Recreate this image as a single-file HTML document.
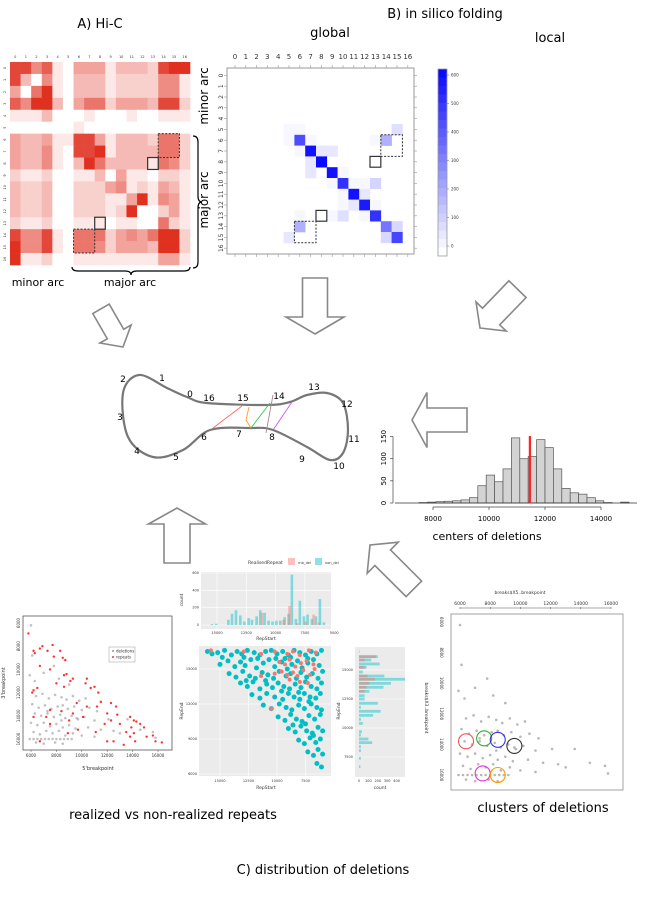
<!DOCTYPE html>
<html><head><meta charset="utf-8"><style>
html,body{margin:0;padding:0;background:#fff;}
svg{display:block;font-family:"DejaVu Sans","Liberation Sans",sans-serif;}
</style></head><body>
<svg id="fig" width="650" height="900" viewBox="0 0 650 900" xmlns="http://www.w3.org/2000/svg">
<rect width="650" height="900" fill="#fff"/>
<text x="100" y="28" font-size="13" text-anchor="middle">A) Hi-C</text>
<text x="445" y="18" font-size="13" text-anchor="middle">B) in silico folding</text>
<text x="330" y="37" font-size="13" text-anchor="middle">global</text>
<text x="550" y="42" font-size="13" text-anchor="middle">local</text>
<text transform="translate(208,96) rotate(-90)" font-size="12" text-anchor="middle">minor arc</text>
<text transform="translate(208,200) rotate(-90)" font-size="12" text-anchor="middle">major arc</text>
<text x="38" y="286" font-size="11" text-anchor="middle">minor arc</text>
<text x="130" y="286" font-size="11" text-anchor="middle">major arc</text>
<path d="M193,136 q5,0 5,6 v54 q0,6 4,6 q-4,0 -4,6 v54 q0,6 -5,6" fill="none" stroke="#000" stroke-width="1.2"/>
<path d="M72,267 q0,4 6,4 h47 q6,0 6,4 q0,-4 6,-4 h47 q6,0 6,-4" fill="none" stroke="#000" stroke-width="1.2"/>
<text x="487" y="540" font-size="11" text-anchor="middle">centers of deletions</text>
<text x="173" y="819" font-size="13" text-anchor="middle">realized vs non-realized repeats</text>
<text x="543" y="812" font-size="13" text-anchor="middle">clusters of deletions</text>
<text x="323" y="874" font-size="13" text-anchor="middle">C) distribution of deletions</text>
<g id="layer"></g>
</svg>
<script>
// ---------- data ----------
const hicMatrix = [
[8,8,5,7,1,0,4,4,4,1,3,3,3,2,8,9,9],
[8,3,0,5,1,0,3,3,3,1,2,2,2,2,5,5,1],
[4,0,6,9,1,0,3,3,3,1,2,2,2,2,5,5,1],
[7,5,9,9,3,0,4,6,6,2,4,4,4,3,8,8,2],
[1,1,1,3,0,0,0,1,0,0,0,1,0,0,1,1,1],
[0,0,0,0,0,0,1,0,0,0,0,0,0,0,0,0,0],
[4,3,3,4,1,1,8,8,4,1,3,3,3,2,6,6,2],
[4,3,3,5,1,0,8,8,9,1,3,3,3,3,6,6,2],
[4,3,3,5,1,0,3,9,6,3,3,3,3,1,6,5,2],
[2,1,1,2,0,0,1,1,3,0,4,1,1,0,2,2,1],
[3,2,2,3,0,0,2,2,2,4,5,1,2,1,4,3,1],
[3,2,2,3,0,0,2,2,2,1,1,4,9,1,5,4,1],
[3,2,2,3,0,0,2,2,2,1,2,9,0,0,2,4,1],
[2,1,1,2,0,0,1,1,1,0,1,1,0,0,6,2,1],
[8,5,5,8,1,0,6,6,6,2,4,5,4,6,9,9,2],
[9,5,5,8,1,0,6,6,5,2,4,4,4,3,9,9,2],
[9,1,1,2,0,0,1,1,1,1,1,1,1,1,4,4,1]];
const foldCells = [[5,5,20],[5,6,20],[5,15,80],[6,5,20],[6,6,450],[6,7,20],[6,13,20],[6,14,200],
[7,6,20],[7,7,600],[7,8,60],[7,9,60],[8,7,60],[8,8,620],[9,7,60],[9,9,600],[9,10,20],
[10,9,20],[10,10,520],[10,11,20],[10,12,20],[10,13,110],[11,10,20],[11,11,600],[11,12,60],
[12,10,20],[12,11,60],[12,12,580],[12,13,20],[13,6,20],[13,9,20],[13,10,80],[13,12,20],[13,13,520],
[14,6,200],[14,14,350],[14,15,100],[15,5,60],[15,14,100],[15,15,470]];
const colorbarTicks = [0,100,200,300,400,500,600];
const histStart = 7500, histBin = 300;
const histCounts = [1,2,3,4,5,7,12,39,63,48,77,147,100,105,143,125,77,33,23,20,12,5,1,0,2];
const histMean = 11460;
const histXTicks = [8000,10000,12000,14000];
const histYTicks = [0,50,100,150];
const repStartTeal = [15430,15060,14030,13720,13380,13010,12670,12300,12020,11620,11310,10940,10600,10260,9940,9600,9230,8890,8610,8270,7930,7580,7270,6900,6560,6220,5880];
const countTeal = [10,15,60,130,170,110,40,80,60,100,170,140,50,40,50,50,90,130,580,70,280,100,120,70,100,300,30];
const repStartPink = [11160,9320,8810,8150,7440,6760,6310];
const countPink = [140,60,220,20,40,120,30];
const repStartTicks = [15000,12500,10000,7500,5000];
const countTicks = [0,200,400,600];
const repEndTeal = [16580,16150,15860,15520,15230,14830,14480,14200,13850,13510,13160,12790,12500,12130,11780,11440,11090,10750,10400,9680,9400,9050,8740,8390,8050,7390,6670];
const endCountTeal = [5,200,130,220,80,40,270,500,340,260,110,60,60,200,20,230,150,20,40,30,20,100,140,20,20,20,15];
const repEndPink = [16150,15860,15230,14480,14200,13850,13510,13160];
const endCountPink = [180,60,60,90,170,110,80,60];
const repEndTicks = [15000,12500,10000,7500];
const scatterTeal = [
[16.1,16.5],[15.7,16.3],[15.2,16.4],[14.6,16.6],[14.0,16.2],[13.5,16.5],[13.1,16.3],[12.6,16.6],[12.0,16.4],[11.5,16.2],[11.0,16.5],[10.5,16.6],[10.0,16.3],[9.5,16.5],[9.0,16.2],[8.5,16.6],[8.0,16.4],[7.5,16.2],[7.0,16.5],[6.5,16.3],[6.1,16.6],
[15.0,15.4],[14.3,15.7],[13.7,15.2],[13.2,15.6],[12.8,15.3],[12.3,15.8],[11.8,15.1],[11.2,15.5],[10.7,15.8],[10.2,15.2],[9.6,15.6],[9.1,15.0],[8.7,15.4],[8.2,15.7],[7.8,15.1],[7.3,15.5],[6.8,15.8],[6.3,15.3],
[14.2,14.6],[13.6,14.3],[13.0,14.8],[12.4,14.4],[11.9,14.2],[11.3,14.7],[10.8,14.5],[10.3,14.2],[9.8,14.8],[9.2,14.4],[8.8,14.6],[8.3,14.2],[7.9,14.7],[7.4,14.3],[6.9,14.6],[6.4,14.2],[6.0,14.8],
[13.2,13.8],[12.6,13.5],[12.1,13.9],[11.5,13.3],[10.9,13.7],[10.4,13.4],[9.9,13.8],[9.4,13.5],[8.9,13.3],[8.4,13.7],[7.9,13.4],[7.5,13.9],[7.0,13.5],[6.5,13.3],[6.1,13.8],
[12.2,12.8],[11.5,12.5],[10.9,12.9],[10.2,12.6],[9.5,12.4],[9.0,12.9],[8.5,12.6],[8.0,12.4],[7.6,12.9],[7.1,12.6],[6.6,12.5],[6.2,12.9],
[11.2,11.9],[10.5,11.6],[9.8,12.0],[9.2,11.7],[8.7,11.5],[8.1,11.9],[7.6,11.6],[7.0,12.0],[6.5,11.7],[6.1,11.5],
[9.9,10.9],[9.3,10.6],[8.8,11.1],[8.3,10.7],[7.8,10.5],[7.2,11.0],[6.7,10.7],[6.2,11.1],
[9.0,9.9],[8.4,9.6],[7.9,10.1],[7.4,9.7],[6.9,9.5],[6.4,10.0],[6.0,9.7],
[8.1,8.9],[7.6,8.6],[7.1,9.1],[6.6,8.7],[6.2,9.0],[7.3,7.9],[6.8,7.6],[6.4,8.1],[6.0,7.7],[6.5,6.9],[6.1,6.6],
[14.8,16.0],[12.9,16.0],[11.7,15.9],[10.1,15.9],[9.3,15.9],[8.8,16.0],[7.3,15.9],[12.7,14.0],[11.0,14.0],[9.6,13.1],[8.1,13.0],[7.2,12.2],[8.6,10.2],[7.5,10.3],[6.8,9.3]];
const scatterPink = [[15.8,16.6],[12.9,16.5],[11.4,16.3],[10.2,16.5],[9.1,16.3],[8.6,16.5],[8.0,16.2],[7.2,16.6],[6.6,16.4],
[9.8,15.6],[9.3,15.4],[8.9,15.8],[8.4,15.2],[7.9,15.5],[7.4,15.7],[6.8,15.4],[9.6,14.8],[9.1,14.5],[8.6,14.7],[8.2,14.4],[7.7,14.9],[7.1,14.5],[10.2,14.6],[8.9,14.1],[8.0,13.9],[11.4,14.4],[6.7,15.0],[10.5,11.6],[7.3,13.8]];
const scatterYTicks = [15000,12000,9000,6000];
const delRepeats = [[5.8,6.9],[6.2,8.4],[6.7,8.2],[6.3,8.6],[6.9,8.0],[7.7,7.9],[8.3,8.4],[8.5,9.0],[7.8,8.9],[7.3,8.4],[8.7,9.2],[6.7,9.7],[7.5,10.0],[8.8,10.4],[9.3,10.8],[8.6,10.5],[9.1,11.0],[8.0,11.2],[8.6,11.5],[6.2,11.8],[6.1,12.0],[6.5,11.6],[10.4,10.8],[10.3,11.2],[10.7,11.6],[11.0,11.5],[11.3,12.0],[11.5,12.8],[11.2,13.2],[12.3,12.9],[12.7,13.2],[12.0,13.8],[12.8,13.9],[10.4,13.2],[9.6,12.9],[9.3,13.8],[10.1,14.1],[9.0,14.4],[8.4,13.6],[7.5,13.5],[7.2,14.1],[11.8,14.7],[12.3,14.4],[13.0,14.7],[13.8,14.1],[14.1,14.4],[14.3,14.5],[13.9,15.0],[14.6,14.7],[14.9,15.0],[14.1,15.5],[14.2,16.2],[13.5,15.4],[13.8,15.8],[12.5,16.2],[13.3,16.5],[15.6,15.7],[15.8,16.2],[16.3,16.3],[15.1,15.8],[12.0,16.2],[11.1,15.4],[9.7,15.2],[8.9,15.5],[6.7,16.2],[7.5,14.7],[6.2,14.1]];
const delBreaks = [[5.9,16.0],[6.2,16.0],[6.5,16.0],[6.8,16.0],[7.1,16.0],[7.4,16.0],[7.7,16.0],[8.0,16.0],[8.3,16.0],[8.6,16.0],[8.9,16.0],[9.2,16.0],
[6.0,6.2],[6.1,8.8],[5.9,10.5],[6.3,11.0],[7.0,10.3],[7.8,9.7],[8.2,10.8],[9.0,11.3],[6.4,12.3],[6.9,12.1],[7.4,12.5],[7.9,12.2],[8.4,12.4],[8.8,12.6],[9.3,12.3],[9.8,12.7],[10.3,12.5],[6.1,13.0],[6.6,13.3],[7.1,13.1],[7.6,13.4],[8.1,13.2],[8.5,13.1],[8.9,13.4],[9.4,13.2],[10.0,13.5],[10.6,13.3],[11.2,13.6],[6.3,13.8],[6.8,14.0],[7.3,13.8],[7.8,14.1],[8.3,13.9],[8.7,14.2],[9.2,14.0],[9.7,14.3],[10.2,14.1],[11.0,14.4],[6.0,14.6],[6.5,14.8],[7.0,14.6],[7.5,14.9],[8.0,14.7],[8.5,15.0],[9.0,14.8],[9.5,15.1],[10.5,15.0],[11.5,15.2],[12.5,15.3],[6.2,15.4],[6.7,15.6],[7.2,15.3],[7.7,15.5],[8.2,15.3],[8.7,15.7],[9.3,15.5],[10.0,15.7],[11.0,15.8],[13.0,15.5],[15.6,15.4],[15.8,15.9],[6.4,16.3],[7.0,16.4],[7.9,16.3],[8.5,16.4],[14.6,15.2],[12.1,14.3],[13.6,14.3],[7.3,13.6],[8.4,14.4],[9.6,14.2]];
const breakTicks = [6000,8000,10000,12000,14000,16000];
const clusterCenters = [[6.4,13.8],[7.6,13.6],[8.5,13.7],[9.6,14.1],[7.5,15.9],[8.5,16.0]];
const clusterColors = ['#e55','#3a3','#33d','#333','#d3d','#f90'];

// ---------- helpers ----------
const NS='http://www.w3.org/2000/svg';
const layer=document.getElementById('layer');
function mk(tag,attrs,parent){const e=document.createElementNS(NS,tag);for(const k in attrs)e.setAttribute(k,attrs[k]);(parent||layer).appendChild(e);return e;}
function txt(x,y,s,size,anchor,parent,rot){const t=mk('text',{x:x,y:y,'font-size':size,'text-anchor':anchor||'middle',fill:'#333'},parent);if(rot)t.setAttribute('transform','rotate('+rot+' '+x+' '+y+')');t.textContent=s;return t;}

// ---------- Hi-C heatmap ----------
const hic=mk('g',{});


const hx0=10,hy0=62,hcw=180/17,hch=203/17;
hicMatrix.forEach((row,r)=>row.forEach((v,c)=>{
  const f=v/9;const col='rgb('+Math.round(255-31*f)+','+Math.round(255-207*f)+','+Math.round(255-223*f)+')';
  const cell=mk('rect',{x:hx0+c*hcw,y:hy0+r*hch,width:hcw+0.3,height:hch+0.3,fill:col},hic);
  
  
}));
for(let i=0;i<17;i++){
  const t1=txt(hx0+(i+0.5)*hcw,58,String(i),3.5,'middle',hic);
  
  
  const t2=txt(6,hy0+(i+0.5)*hch,String(i),3.5,'middle',hic,-90);
  
  
}
function box(g,x,y,w,h,dashed,name){const b=mk('rect',{x:x,y:y,width:w,height:h,fill:'none',stroke:'#333','stroke-width':dashed?1:1.2,'stroke-dasharray':dashed?'2,1.5':'none'},g);}
box(hic,hx0+14*hcw,hy0+6*hch,2*hcw,2*hch,true,'hic-dashed-box');
box(hic,hx0+13*hcw,hy0+8*hch,hcw,hch,false,'hic-solid-box');
box(hic,hx0+8*hcw,hy0+13*hch,hcw,hch,false,'hic-solid-box');
box(hic,hx0+6*hcw,hy0+14*hch,2*hcw,2*hch,true,'hic-dashed-box');

// ---------- in silico heatmap ----------
const fold=mk('g',{});


const fx0=229.6,fy0=70,fc=10.8;
const fr=mk('rect',{x:227,y:68,width:187,height:186,fill:'#fff',stroke:'#999','stroke-width':1},fold);


function blue(v){const f=Math.min(v/620,1);return 'rgb('+Math.round(255-245*f)+','+Math.round(255-245*f)+',255)';}
foldCells.forEach(d=>{
  const c=mk('rect',{x:fx0+d[1]*fc,y:fy0+d[0]*fc,width:fc+0.3,height:fc+0.3,fill:blue(d[2])},fold);
  
  
});
for(let i=0;i<17;i++){
  const t=txt(fx0+(i+0.5)*fc,59,String(i),7,'middle',fold);
  
  
  const t2=txt(223,fy0+(i+0.5)*fc,String(i),6,'middle',fold,-90);
  
  
  mk('line',{x1:fx0+(i+0.5)*fc,x2:fx0+(i+0.5)*fc,y1:65,y2:68,stroke:'#999','stroke-width':0.6},fold);
  mk('line',{x1:fx0+(i+0.5)*fc,x2:fx0+(i+0.5)*fc,y1:254,y2:257,stroke:'#999','stroke-width':0.6},fold);
  mk('line',{x1:224,x2:227,y1:fy0+(i+0.5)*fc,y2:fy0+(i+0.5)*fc,stroke:'#999','stroke-width':0.6},fold);
  mk('line',{x1:414,x2:417,y1:fy0+(i+0.5)*fc,y2:fy0+(i+0.5)*fc,stroke:'#999','stroke-width':0.6},fold);
}
box(fold,fx0+14*fc,fy0+6*fc,2*fc,2*fc,true,'in-silico-dashed-box');
box(fold,fx0+13*fc,fy0+8*fc,fc,fc,false,'in-silico-solid-box');
box(fold,fx0+8*fc,fy0+13*fc,fc,fc,false,'in-silico-solid-box');
box(fold,fx0+6*fc,fy0+14*fc,2*fc,2*fc,true,'in-silico-dashed-box');
// colorbar
const cb=mk('g',{});


const cbTop=69,cbBot=256,cbV0=246,cbV600=75;
for(let s=0;s<22;s++){const y=cbTop+(cbBot-cbTop)*s/22;const v=620*(1-s/21);mk('rect',{x:438,y:y,width:9,height:(cbBot-cbTop)/22+0.4,fill:blue(v)},cb);}
mk('rect',{x:438,y:cbTop,width:9,height:cbBot-cbTop,fill:'none',stroke:'#999','stroke-width':0.8},cb);
colorbarTicks.forEach(v=>{const y=cbV0+(cbV600-cbV0)*v/600;mk('line',{x1:447,x2:449,y1:y,y2:y,stroke:'#666','stroke-width':0.5},cb);const t=txt(451,y+1.5,String(v),4,'start',cb);});

// ---------- arrows ----------
function arrow(tx,ty,ang,len,sw,hw,hl,name){
  const p=[[0,0],[-hl,-hw/2],[-hl,-sw/2],[-len,-sw/2],[-len,sw/2],[-hl,sw/2],[-hl,hw/2]];
  const a=ang*Math.PI/180,ca=Math.cos(a),sa=Math.sin(a);
  const pts=p.map(q=>(tx+q[0]*ca-q[1]*sa).toFixed(1)+','+(ty+q[0]*sa+q[1]*ca).toFixed(1)).join(' ');
  const e=mk('polygon',{points:pts,fill:'#fff',stroke:'#888','stroke-width':1.6,'stroke-linejoin':'miter'});
  
  
}
arrow(315,334,90,56,25,58,17,'arrow-global-down');
arrow(123,347,60,44,19,36,15,'arrow-hic-down-right');
arrow(480,328,134,54,24,42,16,'arrow-local-down-left');
arrow(412,420,180,55,24,55,15,'arrow-histogram-left');
arrow(177,508,-90,55,26,57,16,'arrow-up-to-loop');
arrow(370,545,-135,62,22,44,18,'arrow-clusters-up-left');

// ---------- loop diagram ----------
const loopPts=[[139,375],[167,388],[187,397],[207,403],[267,405],[290,402],[307,395],[327,393],[343,403],[348,430],[343,453],[330,460],[307,447],[273,430],[250,428],[210,430],[183,450],[153,457],[128,437],[123,393]];
function closedSpline(P){const n=P.length;let d='M'+P[0][0]+','+P[0][1];for(let i=0;i<n;i++){const p0=P[(i-1+n)%n],p1=P[i],p2=P[(i+1)%n],p3=P[(i+2)%n];d+=' C'+(p1[0]+(p2[0]-p0[0])/6).toFixed(1)+','+(p1[1]+(p2[1]-p0[1])/6).toFixed(1)+' '+(p2[0]-(p3[0]-p1[0])/6).toFixed(1)+','+(p2[1]-(p3[1]-p1[1])/6).toFixed(1)+' '+p2[0]+','+p2[1];}return d+'Z';}
const loop=mk('path',{d:closedSpline(loopPts),fill:'none',stroke:'#777','stroke-width':2.2});


const loopLabels=[['2',123,382],['1',162,381],['0',190,397],['16',209,401],['15',243,401],['14',279,399],['13',314,390],['12',347,407],['11',354,442],['10',339,469],['9',302,462],['8',272,440],['7',239,437],['6',204,440],['5',176,460],['4',137,454],['3',120,420]];
loopLabels.forEach(l=>{const t=txt(l[1],l[2],l[0],9,'middle');t.setAttribute('fill','#000');});
const chords=[['M213,428 L242,406','#f66'],['M249,407 L246,420 L251,428','#f93'],['M251,428 L270,403','#3c5'],['M266,433 L273,395','#a88'],['M273,430 L292,402','#c5f']];
chords.forEach(c=>{const e=mk('path',{d:c[0],fill:'none',stroke:c[1],'stroke-width':0.9});});

// ---------- histogram ----------
const hg=mk('g',{});


const hxs=v=>433+(v-8000)*0.028, hys=v=>503-v*0.443;
histCounts.forEach((c,i)=>{
  const x0=hxs(histStart+i*histBin),x1=hxs(histStart+(i+1)*histBin);
  const b=mk('rect',{x:x0,y:hys(c),width:x1-x0,height:503-hys(c),fill:'#d3d3d3',stroke:'#555','stroke-width':0.7},hg);
  
  
});
mk('line',{x1:395,x2:637,y1:503,y2:503,stroke:'#333','stroke-width':0.7},hg);
const ml=mk('line',{x1:hxs(histMean),x2:hxs(histMean),y1:436,y2:503,stroke:'#f22','stroke-width':2.2},hg);


mk('line',{x1:hxs(8000),x2:hxs(14000),y1:507,y2:507,stroke:'#444','stroke-width':0.7},hg);
histXTicks.forEach(v=>{mk('line',{x1:hxs(v),x2:hxs(v),y1:507,y2:510,stroke:'#444','stroke-width':0.7},hg);const t=txt(hxs(v),521,String(v),7,'middle',hg);t.setAttribute('fill','#000');});
mk('line',{x1:393,x2:393,y1:hys(0),y2:hys(150),stroke:'#444','stroke-width':0.7},hg);
histYTicks.forEach(v=>{mk('line',{x1:390,x2:393,y1:hys(v),y2:hys(v),stroke:'#444','stroke-width':0.7},hg);const t=txt(386,hys(v),String(v),7,'middle',hg,-90);t.setAttribute('fill','#000');});

// ---------- bottom-left scatter (deletions vs repeats) ----------
const sg=mk('g',{});


const sx=v=>31+(v-6)*12.7, sy=v=>623+(v-6)*11.6;
mk('rect',{x:23,y:616,width:149,height:134,fill:'#fff',stroke:'#555','stroke-width':0.8},sg);
delBreaks.forEach(p=>{const c=mk('circle',{cx:sx(p[0]),cy:sy(p[1]),r:1.3,fill:'#999','fill-opacity':0.6},sg);});
delRepeats.forEach(p=>{const c=mk('circle',{cx:sx(p[0]),cy:sy(p[1]),r:1.2,fill:'#f33'},sg);});
breakTicks.forEach(v=>{const x=sx(v/1000);mk('line',{x1:x,x2:x,y1:750,y2:752,stroke:'#555','stroke-width':0.5},sg);const t=txt(x,757,String(v),4,'middle',sg);
 const y=sy(v/1000);const t2=txt(20,y,String(v),4,'middle',sg,-90);});
txt(98,770,"5'breakpoint",5,'middle',sg);
txt(5,683,"3'breakpoint",5,'middle',sg,-90);
const lg=mk('g',{},sg);


mk('rect',{x:109,y:647,width:26,height:15,fill:'#fff',stroke:'#999','stroke-width':0.5},lg);
mk('circle',{cx:113,cy:651,r:1,fill:'#999'},lg);mk('circle',{cx:113,cy:657,r:1,fill:'#f33'},lg);
txt(116,652.5,'deletions',4,'start',lg);txt(116,658.5,'repeats',4,'start',lg);

// ---------- ggplot top histogram ----------
const gt=mk('g',{});


const gx=v=>217+(15000-v)/2500*29.3, gy=v=>625-v/600*52;
mk('rect',{x:201,y:572,width:130,height:57,fill:'#ebebeb'},gt);
repStartTicks.forEach(v=>{mk('line',{x1:gx(v),x2:gx(v),y1:572,y2:629,stroke:'#fff','stroke-width':0.6},gt);const t=txt(gx(v),634,String(v),3.5,'middle',gt);});
countTicks.forEach(v=>{mk('line',{x1:201,x2:331,y1:gy(v),y2:gy(v),stroke:'#fff','stroke-width':0.6},gt);const t=txt(199,gy(v)+1,String(v),3.5,'end',gt);});
repStartTeal.forEach((v,i)=>{const b=mk('rect',{x:gx(v)-1.3,y:gy(countTeal[i]),width:2.6,height:625-gy(countTeal[i]),fill:'#00bfc4','fill-opacity':0.45},gt);});
repStartPink.forEach((v,i)=>{const b=mk('rect',{x:gx(v)-1.3,y:gy(countPink[i]),width:2.6,height:625-gy(countPink[i]),fill:'#f8766d','fill-opacity':0.45},gt);});
txt(266,640,'RepStart',4.5,'middle',gt);
txt(183,600,'count',4.5,'middle',gt,-90);
const gl=mk('g',{},gt);


txt(248,564,'RealisedRepeat',4.5,'start',gl);
mk('rect',{x:288,y:558,width:7,height:7,fill:'#f8766d','fill-opacity':0.45},gl);txt(298,564,'rnb_del',3.5,'start',gl);
mk('rect',{x:315,y:558,width:7,height:7,fill:'#00bfc4','fill-opacity':0.45},gl);txt(325,564,'non_del',3.5,'start',gl);

// ---------- ggplot scatter ----------
const gs=mk('g',{});


const px=v=>220+(15-v)/2.5*28.5, py=v=>669+(15-v)/3*35;
mk('rect',{x:199,y:646,width:132,height:130,fill:'#ebebeb'},gs);
[15000,12500,10000,7500].forEach(v=>{mk('line',{x1:px(v/1000),x2:px(v/1000),y1:646,y2:776,stroke:'#fff','stroke-width':0.6},gs);const t=txt(px(v/1000),782,String(v),3.5,'middle',gs);});
scatterYTicks.forEach(v=>{mk('line',{x1:199,x2:331,y1:py(v/1000),y2:py(v/1000),stroke:'#fff','stroke-width':0.6},gs);const t=txt(197,py(v/1000)+1,String(v),3.5,'end',gs);});
scatterTeal.forEach(p=>{const c=mk('circle',{cx:px(p[0]),cy:py(p[1]),r:2.5,fill:'#00bfc4'},gs);});
scatterPink.forEach(p=>{const c=mk('circle',{cx:px(p[0]),cy:py(p[1]),r:2,fill:'#f8766d'},gs);});
txt(266,789,'RepStart',4.5,'middle',gs);
txt(183,711,'RepEnd',4.5,'middle',gs,-90);

// ---------- right horizontal histogram ----------
const rh=mk('g',{});


const rx=v=>359+v*0.094, ry=v=>670+(15000-v)/2500*29;
mk('rect',{x:355,y:647,width:50,height:130,fill:'#ebebeb'},rh);
repEndTicks.forEach(v=>{mk('line',{x1:355,x2:405,y1:ry(v),y2:ry(v),stroke:'#fff','stroke-width':0.6},rh);const t=txt(353,ry(v)+1,String(v),3.5,'end',rh);});
[0,100,200,300,400].forEach(v=>{const t=txt(rx(v),782,String(v),3.5,'middle',rh);});
repEndTeal.forEach((v,i)=>{const b=mk('rect',{x:359,y:ry(v)-1.4,width:Math.min(rx(endCountTeal[i]),405)-359,height:2.8,fill:'#00bfc4','fill-opacity':0.45},rh);});
repEndPink.forEach((v,i)=>{const b=mk('rect',{x:359,y:ry(v)-1.4,width:rx(endCountPink[i])-359,height:2.8,fill:'#f8766d','fill-opacity':0.45},rh);});
txt(380,789,'count',4.5,'middle',rh);
txt(340,711,'RepEnd',4.5,'middle',rh,-90);

// ---------- clusters plot ----------
const cg=mk('g',{});


const cx=v=>460+(v-6)*15.1, cy=v=>622+(v-6)*15.3;
mk('rect',{x:451,y:614,width:172,height:176,fill:'#fff',stroke:'#999','stroke-width':0.9},cg);
delBreaks.forEach(p=>{const c=mk('circle',{cx:cx(p[0]),cy:cy(p[1]),r:1.3,fill:'#888','fill-opacity':0.6},cg);});
clusterCenters.forEach((p,i)=>{const c=mk('circle',{cx:cx(p[0]),cy:cy(p[1]),r:7.5,fill:'none',stroke:clusterColors[i],'stroke-width':1.1},cg);});
breakTicks.forEach(v=>{const x=cx(v/1000);mk('line',{x1:x,x2:x,y1:607,y2:609,stroke:'#555','stroke-width':0.5},cg);const t=txt(x,605,String(v),4.5,'middle',cg);
 const y=cy(v/1000);const t2=txt(440,y,String(v),4,'middle',cg,90);});
mk('line',{x1:cx(6),x2:cx(16),y1:608,y2:608,stroke:'#555','stroke-width':0.5},cg);
txt(520,594,'breaks$X5..breakpoint',4.5,'middle',cg);
txt(425,708,'breaks$X3..breakpoint',4.5,'middle',cg,90);
</script>
</body></html>
